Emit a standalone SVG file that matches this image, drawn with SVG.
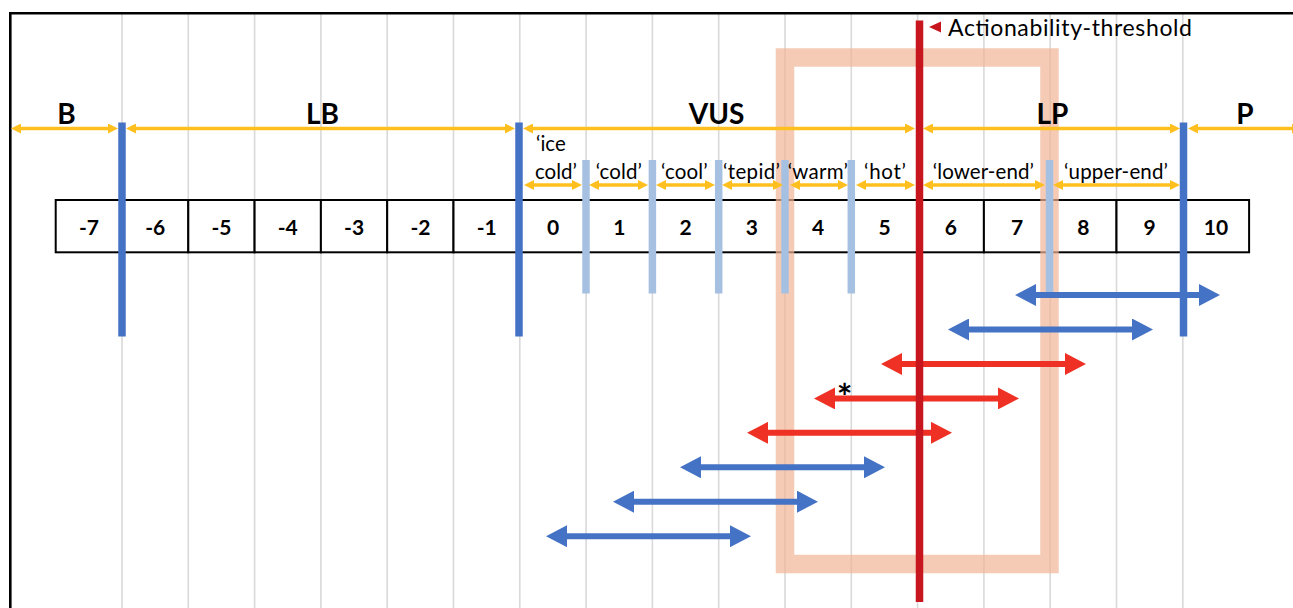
<svg xmlns="http://www.w3.org/2000/svg" width="1293" height="608" viewBox="0 0 1293 608">
  <style>
    .grid line { stroke: #D9D9D9; stroke-width: 1.6; }
    .cell { fill: #FFFFFF; stroke: #000000; stroke-width: 2; }
    .num { font-family: Lato, "Liberation Sans", sans-serif; font-weight: bold; font-size: 21px; text-anchor: middle; fill: #000; }
    .zone { font-family: Lato, "Liberation Sans", sans-serif; font-weight: bold; font-size: 28px; text-anchor: middle; fill: #000; }
    .sub { font-family: Lato, "Liberation Sans", sans-serif; font-size: 20.5px; fill: #000; }
    .note { font-family: Lato, "Liberation Sans", sans-serif; font-size: 23px; fill: #000; }
    .major { stroke: #4472C4; stroke-width: 7.5; }
    .minor { stroke: #A6C0E2; stroke-width: 7.5; }
    .span { stroke: #FFBF1E; stroke-width: 3.5; fill: none; marker-start: url(#ya); marker-end: url(#ya); }
    .blue { stroke: #4472C4; stroke-width: 6; marker-start: url(#ba); marker-end: url(#ba); }
    .red { stroke: #EE3124; stroke-width: 6; marker-start: url(#ra); marker-end: url(#ra); }
  </style>
  <defs>
    <marker id="ya" viewBox="0 0 10 10" refX="3" refY="5" markerWidth="10" markerHeight="10" markerUnits="userSpaceOnUse" orient="auto-start-reverse">
      <path d="M0,0 L10,5 L0,10 z" fill="#FFBF1E"/>
    </marker>
    <marker id="ba" viewBox="0 0 21 22" refX="6" refY="11" markerWidth="21" markerHeight="22" markerUnits="userSpaceOnUse" orient="auto-start-reverse">
      <path d="M0,0 L21,11 L0,22 z" fill="#4472C4"/>
    </marker>
    <marker id="ra" viewBox="0 0 21 22" refX="6" refY="11" markerWidth="21" markerHeight="22" markerUnits="userSpaceOnUse" orient="auto-start-reverse">
      <path d="M0,0 L21,11 L0,22 z" fill="#EE3124"/>
    </marker>
  </defs>

  <rect width="1293" height="608" fill="#FFFFFF"/>

  <!-- background grid, one line per score unit -->
  <g id="grid" class="grid">
    <line x1="122" y1="13" x2="122" y2="608"/>
    <line x1="188.3" y1="13" x2="188.3" y2="608"/>
    <line x1="254.6" y1="13" x2="254.6" y2="608"/>
    <line x1="320.9" y1="13" x2="320.9" y2="608"/>
    <line x1="387.2" y1="13" x2="387.2" y2="608"/>
    <line x1="453.5" y1="13" x2="453.5" y2="608"/>
    <line x1="519.8" y1="13" x2="519.8" y2="608"/>
    <line x1="586.1" y1="13" x2="586.1" y2="608"/>
    <line x1="652.4" y1="13" x2="652.4" y2="608"/>
    <line x1="718.7" y1="13" x2="718.7" y2="608"/>
    <line x1="785" y1="13" x2="785" y2="608"/>
    <line x1="851.3" y1="13" x2="851.3" y2="608"/>
    <line x1="917.6" y1="13" x2="917.6" y2="608"/>
    <line x1="983.9" y1="13" x2="983.9" y2="608"/>
    <line x1="1050.2" y1="13" x2="1050.2" y2="608"/>
    <line x1="1116.5" y1="13" x2="1116.5" y2="608"/>
    <line x1="1182.8" y1="13" x2="1182.8" y2="608"/>
  </g>

  <!-- outer frame -->
  <path id="frame" d="M10.3,608 V13.3 H1293" fill="none" stroke="#000" stroke-width="2.6"/>

  <!-- score scale -->
  <g id="scale">
    <rect class="cell" x="55.7" y="200" width="66.3" height="52.3"/>
    <rect class="cell" x="122" y="200" width="66.3" height="52.3"/>
    <rect class="cell" x="188.3" y="200" width="66.3" height="52.3"/>
    <rect class="cell" x="254.6" y="200" width="66.3" height="52.3"/>
    <rect class="cell" x="320.9" y="200" width="66.3" height="52.3"/>
    <rect class="cell" x="387.2" y="200" width="66.3" height="52.3"/>
    <rect class="cell" x="453.5" y="200" width="66.3" height="52.3"/>
    <rect class="cell" x="519.8" y="200" width="66.3" height="52.3"/>
    <rect class="cell" x="586.1" y="200" width="66.3" height="52.3"/>
    <rect class="cell" x="652.4" y="200" width="66.3" height="52.3"/>
    <rect class="cell" x="718.7" y="200" width="66.3" height="52.3"/>
    <rect class="cell" x="785" y="200" width="66.3" height="52.3"/>
    <rect class="cell" x="851.3" y="200" width="66.3" height="52.3"/>
    <rect class="cell" x="917.6" y="200" width="66.3" height="52.3"/>
    <rect class="cell" x="983.9" y="200" width="66.3" height="52.3"/>
    <rect class="cell" x="1050.2" y="200" width="66.3" height="52.3"/>
    <rect class="cell" x="1116.5" y="200" width="66.3" height="52.3"/>
    <rect class="cell" x="1182.8" y="200" width="66.3" height="52.3"/>
    <text class="num" x="88.9" y="234.5">-7</text>
    <text class="num" x="155.2" y="234.5">-6</text>
    <text class="num" x="221.5" y="234.5">-5</text>
    <text class="num" x="287.8" y="234.5">-4</text>
    <text class="num" x="354.1" y="234.5">-3</text>
    <text class="num" x="420.4" y="234.5">-2</text>
    <text class="num" x="486.7" y="234.5">-1</text>
    <text class="num" x="553" y="234.5">0</text>
    <text class="num" x="619.3" y="234.5">1</text>
    <text class="num" x="685.6" y="234.5">2</text>
    <text class="num" x="751.9" y="234.5">3</text>
    <text class="num" x="818.2" y="234.5">4</text>
    <text class="num" x="884.5" y="234.5">5</text>
    <text class="num" x="950.8" y="234.5">6</text>
    <text class="num" x="1017.1" y="234.5">7</text>
    <text class="num" x="1083.4" y="234.5">8</text>
    <text class="num" x="1149.7" y="234.5">9</text>
    <text class="num" x="1216" y="234.5">10</text>
  </g>

  <!-- highlighted window -->
  <rect id="window" x="785" y="57.5" width="264.5" height="506.5" fill="none" stroke="#F1B597" stroke-width="18.5" opacity="0.7"/>

  <!-- boundaries -->
  <g id="minor-bounds" class="minor">
    <line x1="586" y1="160" x2="586" y2="293.5"/>
    <line x1="652.4" y1="160" x2="652.4" y2="293.5"/>
    <line x1="718.7" y1="160" x2="718.7" y2="293.5"/>
    <line x1="785" y1="160" x2="785" y2="293.5"/>
    <line x1="851.3" y1="160" x2="851.3" y2="293.5"/>
    <line x1="1049.5" y1="160" x2="1049.5" y2="293.5"/>
  </g>
  <g id="major-bounds" class="major">
    <line x1="122" y1="122.5" x2="122" y2="336.5"/>
    <line x1="519" y1="122.5" x2="519" y2="336.5"/>
    <line x1="1183.5" y1="122.5" x2="1183.5" y2="336.5"/>
  </g>

  <!-- score ranges -->
  <g id="connectors">
    <line class="blue" x1="1030" y1="295" x2="1205" y2="295"/>
    <line class="blue" x1="963" y1="329.5" x2="1138" y2="329.5"/>
    <line class="red" x1="896" y1="364" x2="1071" y2="364"/>
    <line class="red" x1="829" y1="398.4" x2="1004" y2="398.4"/>
    <line class="red" x1="762" y1="432.8" x2="937" y2="432.8"/>
    <line class="blue" x1="695" y1="467.3" x2="870" y2="467.3"/>
    <line class="blue" x1="628" y1="501.7" x2="803" y2="501.7"/>
    <line class="blue" x1="561" y1="536.2" x2="736" y2="536.2"/>

    <line class="span" x1="18" y1="128.5" x2="111" y2="128.5"/>
    <line class="span" x1="133" y1="128.5" x2="508" y2="128.5"/>
    <line class="span" x1="530" y1="128.5" x2="908" y2="128.5"/>
    <line class="span" x1="930" y1="128.5" x2="1173" y2="128.5"/>
    <line class="span" x1="1195" y1="128.5" x2="1295" y2="128.5"/>

    <line class="span" x1="531" y1="185" x2="575" y2="185"/>
    <line class="span" x1="596" y1="185" x2="641" y2="185"/>
    <line class="span" x1="663" y1="185" x2="708" y2="185"/>
    <line class="span" x1="729" y1="185" x2="776" y2="185"/>
    <line class="span" x1="797" y1="185" x2="841" y2="185"/>
    <line class="span" x1="863" y1="185" x2="908" y2="185"/>
    <line class="span" x1="930" y1="185" x2="1038" y2="185"/>
    <line class="span" x1="1060" y1="185" x2="1173" y2="185"/>
  </g>

  <!-- threshold -->
  <g id="threshold">
    <line x1="919.5" y1="20.5" x2="919.5" y2="602" stroke="#C8161E" stroke-width="7.5"/>
    <polygon points="929,27 941,21.5 941,32.5" fill="#C8161E"/>
    <text class="note" x="948" y="35.7" textLength="244">Actionability-threshold</text>
  </g>

  <!-- class labels -->
  <g id="zone-labels">
    <text class="zone" x="66.5" y="124.3">B</text>
    <text class="zone" x="322.5" y="124.3">LB</text>
    <text class="zone" x="716.5" y="124.3">VUS</text>
    <text class="zone" x="1052.5" y="124.3">LP</text>
    <text class="zone" x="1245" y="124.3">P</text>
  </g>

  <!-- sub-range labels -->
  <g id="sub-labels">
    <text class="sub" x="536" y="150.5">‘ice</text>
    <text class="sub" x="535" y="178.5">cold’</text>
    <text class="sub" x="595.7" y="178.5" textLength="46.3">‘cold’</text>
    <text class="sub" x="661" y="178.5" textLength="46.7">‘cool’</text>
    <text class="sub" x="723" y="178.5" textLength="57">‘tepid’</text>
    <text class="sub" x="787.7" y="178.5" textLength="60.3">‘warm’</text>
    <text class="sub" x="864" y="178.5" textLength="42">‘hot’</text>
    <text class="sub" x="932.7" y="178.5" textLength="101.3">‘lower-end’</text>
    <text class="sub" x="1064" y="178.5" textLength="104">‘upper-end’</text>
  </g>

  <text id="asterisk" x="844.5" y="410" font-family="Lato, 'Liberation Sans', sans-serif" font-weight="bold" font-size="37" text-anchor="middle">*</text>
</svg>
